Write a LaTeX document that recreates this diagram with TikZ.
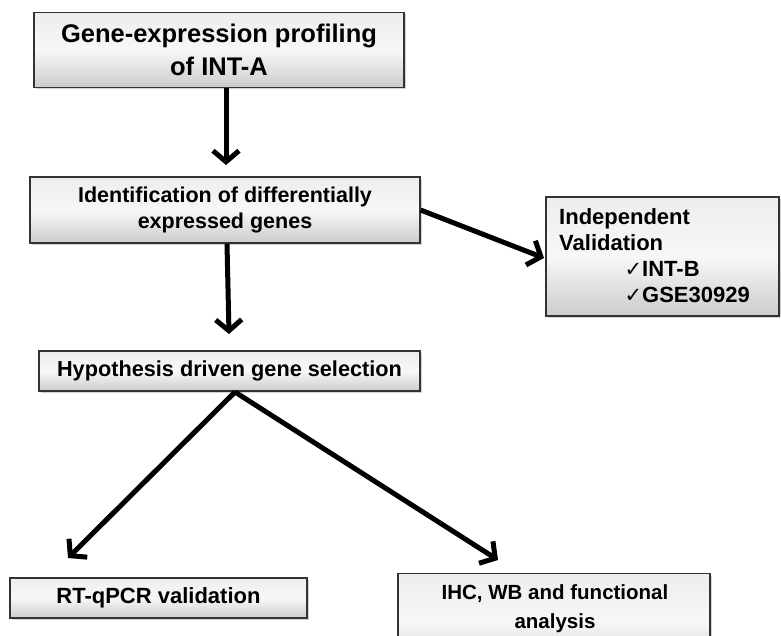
\documentclass[tikz,border=0pt]{standalone}
\usepackage{fontspec}
\setmainfont{Liberation Sans}
\newfontfamily\symfont{DejaVu Sans}
\usetikzlibrary{arrows.meta,shadows}
\tikzset{
  procbox/.style={draw=black!80, line width=1.2pt, top color=gray!14, bottom color=gray!40,
    middle color=gray!6, shading angle=0, align=center, inner sep=0pt,
    drop shadow={shadow xshift=2pt, shadow yshift=-2pt, opacity=0.35}},
  flowarrow/.style={line width=5pt, -{Straight Barb[length=11pt, width=26pt, line width=5pt]}},
}
\newcommand{\tick}{{\symfont\mdseries\fontsize{21}{20}\selectfont ✓}}
\begin{document}
\begin{tikzpicture}[x=1pt,y=-1pt]
\useasboundingbox (0,0) rectangle (781,636);
\clip (0,0) rectangle (781,636);
\node[procbox, minimum width=370pt, minimum height=75pt, font=\fontsize{25.5}{33}\selectfont\bfseries] (b1) at (219,50) {Gene-expression profiling\\of INT-A};
\node[procbox, minimum width=390pt, minimum height=66pt, font=\fontsize{21.5}{26}\selectfont\bfseries] (b2) at (225,210) {Identification of differentially\\expressed genes};
\node[procbox, minimum width=381pt, minimum height=40pt, font=\fontsize{21.7}{24}\selectfont\bfseries] (b3) at (229.5,371) {Hypothesis driven gene selection};
\node[procbox, minimum width=233pt, minimum height=119pt] (b4) at (662.5,256.5) {};
\node[anchor=base west, inner sep=0pt, align=left, font=\fontsize{22}{25.7}\selectfont\bfseries] (t4) at (559,302)
  {Independent\\Validation\\\hspace{83pt}\llap{\tick}INT-B\\\hspace{83pt}\llap{\tick}GSE30929};
\node[procbox, minimum width=297pt, minimum height=40pt, font=\fontsize{22}{26}\selectfont\bfseries] (b5) at (158.5,598) {RT-qPCR validation};
\node[procbox, minimum width=312pt, minimum height=96pt, anchor=north] (b6) at (554,573) {};
\node[font=\fontsize{20.5}{29}\selectfont\bfseries, align=center, inner sep=0pt, anchor=base] (t6) at (555,628) {IHC, WB and functional\\analysis};
\coordinate (a1) at (226,165);
\coordinate (a2) at (229,334);
\coordinate (a3) at (544,258);
\coordinate (top3) at (235,392);
\coordinate (a5) at (68,558);
\coordinate (a6) at (498,560);
\draw[flowarrow] (b1.south -| a1) -- (a1);
\draw[flowarrow] (b2.south -| 227,0) -- (a2);
\draw[flowarrow] (b2.east |- 0,210) -- (a3);
\draw[flowarrow] (top3) -- (a5);
\draw[flowarrow] (top3) -- (a6);
\end{tikzpicture}
\end{document}
